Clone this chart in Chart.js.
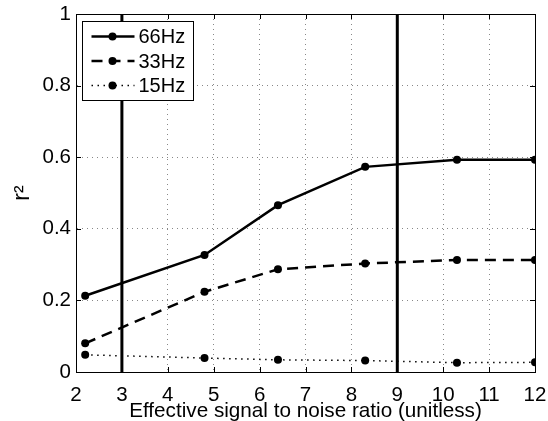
<!DOCTYPE html>
<html>
<head>
<meta charset="utf-8">
<script src="https://cdn.jsdelivr.net/npm/chart.js@4.4.0/dist/chart.umd.min.js"></script>
<style>
  body { margin: 0; background: #fff; }
  canvas { display: block; }
</style>
</head>
<body>
<canvas id="snr-chart" width="548" height="421"></canvas>
<script>
// values
const snr = [2.2, 4.8, 6.4, 8.3, 10.3, 12];
const r2_66Hz = [0.213, 0.327, 0.466, 0.573, 0.593, 0.593];
const r2_33Hz = [0.080, 0.224, 0.287, 0.303, 0.313, 0.313];
const r2_15Hz = [0.048, 0.039, 0.034, 0.032, 0.026, 0.027];
const seriesLabels = ["66Hz", "33Hz", "15Hz"];
const cutoffs = [3, 9];
const xTicks = [2, 3, 4, 5, 6, 7, 8, 9, 10, 11, 12];
const yTicks = [0, 0.2, 0.4, 0.6, 0.8, 1];

const FONT = "'Liberation Sans', Arial, Helvetica, sans-serif";
Chart.defaults.font.family = FONT;
Chart.defaults.color = '#000';

const toPoints = ys => snr.map((x, i) => ({ x: x, y: ys[i] }));

const seriesStyles = [
  { data: r2_66Hz, dash: [], width: 2.5 },
  { data: r2_33Hz, dash: [11, 7], width: 2.5 },
  { data: r2_15Hz, dash: [1.5, 4.5], width: 1.5 }
];

const datasets = seriesStyles.map((s, i) => ({
  label: seriesLabels[i],
  data: toPoints(s.data),
  borderColor: '#000',
  backgroundColor: '#000',
  borderWidth: s.width,
  borderDash: s.dash,
  pointRadius: 4,
  pointBorderWidth: 0,
  pointBackgroundColor: '#000',
  tension: 0,
  inLegend: true
}));

// the two vertical marker lines
cutoffs.forEach(c => {
  datasets.push({
    label: 'cutoff ' + c,
    data: [{ x: c, y: yTicks[0] }, { x: c, y: yTicks[yTicks.length - 1] }],
    borderColor: '#000',
    borderWidth: 3,
    pointRadius: 0,
    inLegend: false
  });
});

const frameAndLegend = {
  id: 'frameAndLegend',
  afterDatasetsDraw(chart) {
    const { ctx, chartArea: a, scales } = chart;
    ctx.save();
    ctx.strokeStyle = '#000';
    ctx.lineWidth = 1;
    ctx.setLineDash([]);

    // ticks pointing inward on all four sides
    ctx.beginPath();
    scales.x.ticks.forEach(t => {
      const px = Math.round(scales.x.getPixelForValue(t.value)) + 0.5;
      ctx.moveTo(px, a.bottom); ctx.lineTo(px, a.bottom - 5);
      ctx.moveTo(px, a.top); ctx.lineTo(px, a.top + 5);
    });
    scales.y.ticks.forEach(t => {
      const py = Math.round(scales.y.getPixelForValue(t.value)) + 0.5;
      ctx.moveTo(a.left, py); ctx.lineTo(a.left + 5, py);
      ctx.moveTo(a.right, py); ctx.lineTo(a.right - 5, py);
    });
    ctx.stroke();
    ctx.strokeRect(Math.round(a.left) + 0.5, Math.round(a.top) + 0.5,
      Math.round(a.right - a.left), Math.round(a.bottom - a.top));

    // legend box
    const items = chart.data.datasets.filter(d => d.inLegend);
    const bx = Math.round(a.left) + 6.5, by = Math.round(a.top) + 7.5;
    const bw = 111, bh = 79, rowH = 24.5;
    ctx.fillStyle = '#fff';
    ctx.fillRect(bx, by, bw, bh);
    ctx.strokeRect(bx, by, bw, bh);

    ctx.font = '20px ' + FONT;
    ctx.textBaseline = 'middle';
    items.forEach((d, i) => {
      const cy = by + 15 + i * rowH;
      ctx.strokeStyle = d.borderColor;
      ctx.lineWidth = d.borderWidth;
      ctx.setLineDash(d.borderDash);
      ctx.beginPath();
      ctx.moveTo(bx + 9, cy);
      ctx.lineTo(bx + 52, cy);
      ctx.stroke();
      ctx.setLineDash([]);
      ctx.fillStyle = '#000';
      ctx.beginPath();
      ctx.arc(bx + 30, cy, 4, 0, Math.PI * 2);
      ctx.fill();
      ctx.fillText(d.label, bx + 56, cy + 1);
    });
    ctx.restore();
  }
};

new Chart(document.getElementById('snr-chart'), {
  type: 'line',
  data: { datasets: datasets },
  plugins: [frameAndLegend],
  options: {
    responsive: false,
    animation: false,
    layout: { padding: { top: 14, right: 13, left: 0, bottom: 0 } },
    plugins: { legend: { display: false }, tooltip: { enabled: false } },
    scales: {
      x: {
        type: 'linear',
        min: xTicks[0],
        max: xTicks[xTicks.length - 1],
        afterBuildTicks: s => { s.ticks = xTicks.map(v => ({ value: v })); },
        afterFit: s => { s.height = 49; s.paddingLeft = 0; s.paddingRight = 0; },
        ticks: { font: { size: 20.5 }, padding: 11, maxRotation: 0 },
        grid: { color: '#888', lineWidth: 1, drawTicks: false },
        border: { display: true, color: '#000', dash: [1, 4] },
        title: {
          display: true,
          text: 'Effective signal to noise ratio (unitless)',
          font: { size: 20.7 },
          padding: { top: 0, bottom: -3 }
        }
      },
      y: {
        min: yTicks[0],
        max: yTicks[yTicks.length - 1],
        afterBuildTicks: s => { s.ticks = yTicks.map(v => ({ value: v })); },
        afterFit: s => { s.width = 76; s.paddingTop = 0; s.paddingBottom = 0; },
        ticks: { font: { size: 20.5 }, padding: 5, callback: v => String(v) },
        grid: { color: '#888', lineWidth: 1, drawTicks: false },
        border: { display: true, color: '#000', dash: [1, 4] },
        title: {
          display: true,
          text: 'r²',
          font: { size: 23 },
          padding: { top: 9, bottom: 0 }
        }
      }
    }
  }
});
</script>
</body>
</html>
